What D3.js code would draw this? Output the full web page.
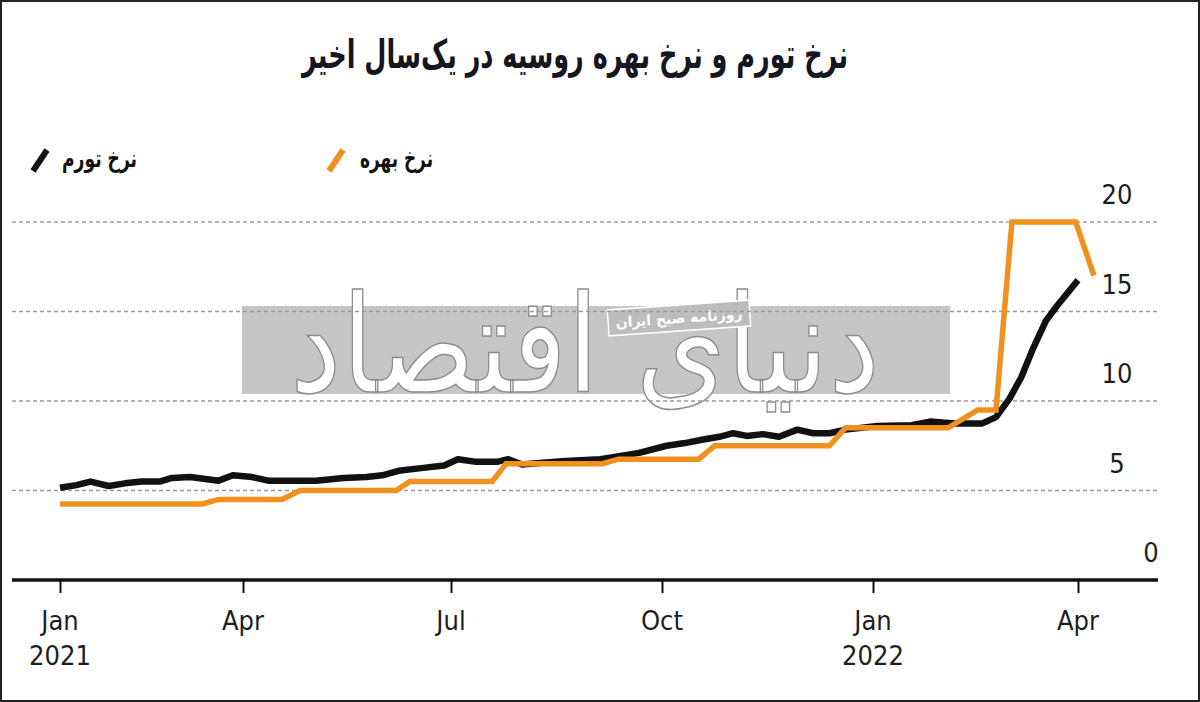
<!DOCTYPE html>
<html>
<head>
<meta charset="utf-8">
<script src="https://cdn.jsdelivr.net/npm/d3@7"></script>
<style>
body { margin: 0; background: #fff; }
svg { display: block; background: #fff; }
.num { font-family: "DejaVu Sans", "Liberation Sans", sans-serif; font-stretch: condensed; fill: #1e1e1e; }
.fa { font-family: "DejaVu Sans", "Noto Sans", sans-serif; }
.grid line { stroke: #9a9a9a; stroke-width: 1.6; stroke-dasharray: 4 3; }
</style>
</head>
<body>
<svg id="chart" width="1200" height="702"></svg>
<script>
// ---- data ----
var titleText = "نرخ تورم و نرخ بهره روسیه در یک‌سال اخیر";
var seriesNames = ["نرخ تورم", "نرخ بهره"];
var seriesColors = ["#111111", "#ef901f"];

// inflation (weekly-ish readings)
var inflDates = ["2021-01-01","2021-01-09","2021-01-16","2021-01-25","2021-02-02","2021-02-10","2021-02-19","2021-02-25",
  "2021-03-06","2021-03-20","2021-03-27","2021-04-05","2021-04-12","2021-04-22","2021-05-03","2021-05-15","2021-05-25",
  "2021-06-01","2021-06-08","2021-06-18","2021-06-28","2021-07-04","2021-07-12","2021-07-21","2021-07-26","2021-08-01",
  "2021-08-10","2021-08-20","2021-09-04","2021-09-09","2021-09-21","2021-10-03","2021-10-11","2021-10-19","2021-10-26",
  "2021-11-01","2021-11-07","2021-11-14","2021-11-21","2021-11-29","2021-12-06","2021-12-13","2021-12-20","2022-01-03",
  "2022-01-18","2022-01-26","2022-02-06","2022-02-18","2022-02-24","2022-03-02","2022-03-07","2022-03-12","2022-03-18",
  "2022-03-23","2022-04-01"];
var inflValues = [5.15,5.3,5.5,5.25,5.4,5.5,5.5,5.7,
  5.75,5.55,5.85,5.75,5.55,5.55,5.55,5.7,5.75,
  5.85,6.1,6.25,6.4,6.75,6.6,6.6,6.75,6.45,
  6.55,6.65,6.75,6.85,7.1,7.5,7.65,7.85,8.0,
  8.2,8.05,8.15,8.0,8.4,8.2,8.2,8.4,8.6,
  8.65,8.85,8.75,8.75,9.1,10.15,11.3,12.85,14.5,
  15.35,16.75];

// key rate (step line as drawn)
var rateDates = ["2021-01-01","2021-03-12","2021-03-20","2021-04-18","2021-04-26","2021-06-07","2021-06-13",
  "2021-07-19","2021-07-25","2021-09-05","2021-09-12","2021-10-17","2021-10-24","2021-12-13","2021-12-20",
  "2022-02-03","2022-02-16","2022-02-24","2022-03-03","2022-03-31","2022-04-08"];
var rateValues = [4.25,4.25,4.5,4.5,5,5,5.5,
  5.5,6.5,6.5,6.75,6.75,7.5,7.5,8.5,
  8.5,9.5,9.5,20,20,17];

var yTicks = [0, 5, 10, 15, 20];
var xTickDates = ["2021-01-01","2021-04-01","2021-07-01","2021-10-01","2022-01-01","2022-04-01"];
var xTickMonths = ["Jan","Apr","Jul","Oct","Jan","Apr"];
var xTickYears = ["2021","","","","2022",""];

// ---- drawing ----
var svg = d3.select("#chart");
var W = 1200, H = 702;
var parse = d3.timeParse("%Y-%m-%d");

// the source axis spaces its quarters unevenly, so the time scale is piecewise
var x = d3.scaleTime()
  .domain(xTickDates.map(parse))
  .range([60, 243, 451, 662, 873, 1078]);
var y = d3.scaleLinear().domain([0, 20]).range([580, 222]);

var infl = inflDates.map(function(d, i) { return {date: parse(d), v: inflValues[i]}; });
var rate = rateDates.map(function(d, i) { return {date: parse(d), v: rateValues[i]}; });

svg.append("rect").attr("x", 1).attr("y", 1).attr("width", W - 2).attr("height", H - 2)
  .attr("fill", "#fff").attr("stroke", "#222").attr("stroke-width", 2);

// title (rtl: "start" anchors the right edge)
svg.append("text").attr("class", "fa")
  .attr("x", 848).attr("y", 68).attr("text-anchor", "start")
  .attr("direction", "rtl")
  .attr("textLength", 546).attr("lengthAdjust", "spacingAndGlyphs")
  .style("font-size", "40px").style("font-weight", "bold").attr("fill", "#16161e")
  .text(titleText);

// legend
var legend = [{x: 40, tx: 137, w: 75}, {x: 336, tx: 433, w: 73}];
legend.forEach(function(l, i) {
  svg.append("line")
    .attr("x1", l.x - 7).attr("y1", 171).attr("x2", l.x + 7).attr("y2", 150)
    .attr("stroke", seriesColors[i]).attr("stroke-width", 6);
  svg.append("text").attr("class", "fa")
    .attr("x", l.tx).attr("y", 167).attr("text-anchor", "start")
    .attr("direction", "rtl")
    .attr("textLength", l.w).attr("lengthAdjust", "spacingAndGlyphs")
    .style("font-size", "25px").style("font-weight", "bold").attr("fill", "#111")
    .text(seriesNames[i]);
});

// watermark
var wm = svg.append("g");
wm.append("rect").attr("x", 242).attr("y", 306).attr("width", 708).attr("height", 88).attr("fill", "#c5c5c5");
wm.append("text").attr("class", "fa")
  .attr("x", 880).attr("y", 392).attr("text-anchor", "start")
  .attr("direction", "rtl")
  .attr("textLength", 590).attr("lengthAdjust", "spacingAndGlyphs")
  .style("font-size", "135px").attr("fill", "#fff").attr("stroke", "#8c8c8c").attr("stroke-width", 1.5)
  .text("دنیای اقتصاد");
var tag = wm.append("g").attr("transform", "translate(679,318) rotate(-4)");
tag.append("rect").attr("x", -71).attr("y", -13).attr("width", 142).attr("height", 26)
  .attr("fill", "#bdbdbd").attr("stroke", "#fff").attr("stroke-width", 1.5);
tag.append("text").attr("class", "fa").attr("y", 5).attr("text-anchor", "middle")
  .attr("direction", "rtl")
  .style("font-size", "14px").style("font-weight", "bold").attr("fill", "#fff")
  .text("روزنامه صبح ایران");

// gridlines
svg.append("g").attr("class", "grid")
  .selectAll("line").data(yTicks.filter(function(d) { return d > 0; }))
  .enter().append("line")
  .attr("x1", 12).attr("x2", 1160)
  .attr("y1", function(d) { return y(d); }).attr("y2", function(d) { return y(d); });

// y labels sit above their lines
svg.append("g").selectAll("text").data(yTicks)
  .enter().append("text").attr("class", "num")
  .attr("x", function(d) { return d === 0 ? 1151 : 1117; })
  .attr("y", function(d) { return y(d) - 18; })
  .attr("text-anchor", "middle")
  .style("font-size", "27px")
  .text(function(d) { return d; });

// x axis
var xAxis = svg.append("g").attr("transform", "translate(0,580)")
  .call(d3.axisBottom(x).tickValues(xTickDates.map(parse)).tickSize(13).tickFormat(""));
xAxis.select(".domain").remove();
xAxis.selectAll(".tick line").attr("stroke", "#111").attr("stroke-width", 2);
xAxis.append("line").attr("x1", 12).attr("x2", 1158).attr("stroke", "#111").attr("stroke-width", 3.5);

var xl = svg.append("g").selectAll("g").data(xTickDates).enter().append("g")
  .attr("transform", function(d) { return "translate(" + x(parse(d)) + ",0)"; });
xl.append("text").attr("class", "num").attr("y", 630).attr("text-anchor", "middle")
  .style("font-size", "27px").text(function(d, i) { return xTickMonths[i]; });
xl.append("text").attr("class", "num").attr("y", 665).attr("text-anchor", "middle")
  .style("font-size", "27px").text(function(d, i) { return xTickYears[i]; });

// lines
var line = d3.line().x(function(d) { return x(d.date); }).y(function(d) { return y(d.v); });
svg.append("path").datum(infl).attr("d", line)
  .attr("fill", "none").attr("stroke", seriesColors[0]).attr("stroke-width", 6.5)
  .attr("stroke-linejoin", "round");
svg.append("path").datum(rate).attr("d", line)
  .attr("fill", "none").attr("stroke", seriesColors[1]).attr("stroke-width", 5.5)
  .attr("stroke-linejoin", "miter");
</script>
</body>
</html>
